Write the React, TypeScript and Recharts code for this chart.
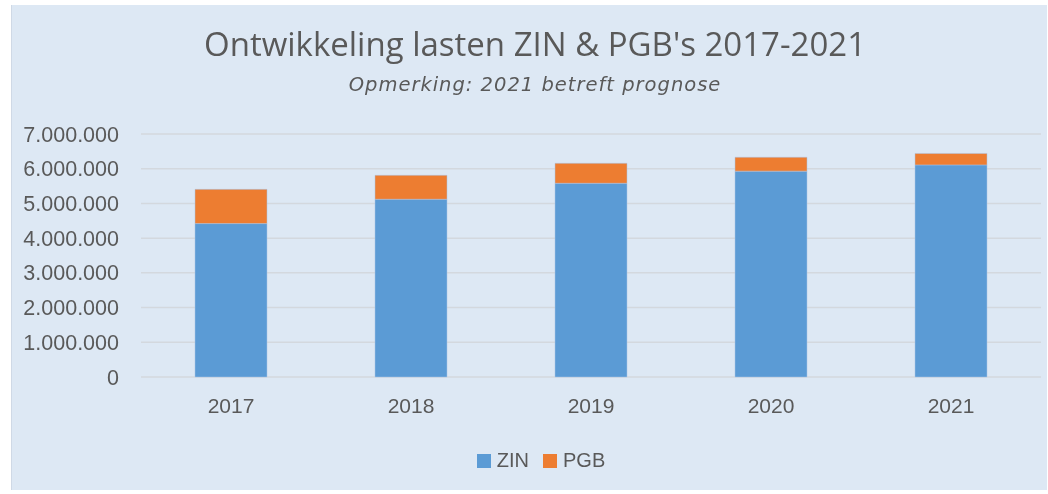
import { BarChart, Bar, XAxis, YAxis, CartesianGrid } from 'recharts'

const years = ['2017', '2018', '2019', '2020', '2021']
const zinValues = [4420000, 5120000, 5580000, 5930000, 6110000]
const pgbValues = [985000, 690000, 575000, 400000, 330000]
const yTicks = [0, 1000000, 2000000, 3000000, 4000000, 5000000, 6000000, 7000000]

const series = [
  { key: 'ZIN', color: '#5b9bd5' },
  { key: 'PGB', color: '#ed7d31' },
]

const data = years.map((year, i) => ({ year, ZIN: zinValues[i], PGB: pgbValues[i] }))

const fmt = (v: number) => String(v).replace(/\B(?=(\d{3})+(?!\d))/g, '.')

const textColor = '#595959'

export default function App() {
  return (
    <div style={{ position: 'fixed', left: 0, top: 0, width: 1048, height: 494, background: '#fff' }}>
      <div
        style={{
          position: 'absolute',
          left: 11,
          top: 5,
          width: 1036,
          height: 485,
          background: '#dde8f4',
          borderLeft: '1px solid #cfd9e6',
          boxSizing: 'border-box',
        }}
      >
        <div
          style={{
            position: 'absolute',
            left: 0,
            top: 16,
            width: 1046,
            textAlign: 'center',
            fontFamily: '"Open Sans", sans-serif',
            fontSize: 33,
            color: textColor,
            whiteSpace: 'nowrap',
          }}
        >
          Ontwikkeling lasten ZIN &amp; PGB's 2017-2021
        </div>
        <div
          style={{
            position: 'absolute',
            left: 0,
            top: 68,
            width: 1046,
            textAlign: 'center',
            fontFamily: '"DejaVu Sans", sans-serif',
            fontStyle: 'italic',
            fontSize: 19.5,
            letterSpacing: 1,
            color: textColor,
            whiteSpace: 'nowrap',
          }}
        >
          Opmerking: 2021 betreft prognose
        </div>

        <BarChart
          width={1036}
          height={485}
          data={data}
          margin={{ top: 129, right: 7, bottom: 83, left: 0 }}
          barCategoryGap="30%"
        >
          <CartesianGrid vertical={false} stroke="#d3d8de" strokeWidth={1.5} />
          <XAxis
            dataKey="year"
            height={30}
            axisLine={false}
            tickLine={false}
            tickSize={0}
            tickMargin={21}
            tick={{ fill: textColor, fontSize: 21, fontFamily: '"Liberation Sans", Arial, sans-serif' }}
          />
          <YAxis
            width={129}
            domain={[0, 7000000]}
            ticks={yTicks}
            interval={0}
            axisLine={false}
            tickLine={false}
            tickSize={0}
            tickMargin={22}
            tickFormatter={fmt}
            tick={{ fill: textColor, fontSize: 21.5, fontFamily: '"Liberation Sans", Arial, sans-serif' }}
          />
          {series.map((s) => (
            <Bar
              key={s.key}
              dataKey={s.key}
              stackId="a"
              fill={s.color}
              stroke="#a8c5e6"
              strokeWidth={0.5}
              isAnimationActive={false}
            />
          ))}
        </BarChart>

        <div
          style={{
            position: 'absolute',
            left: 11,
            top: 444,
            width: 1036,
            display: 'flex',
            justifyContent: 'center',
            alignItems: 'center',
            fontFamily: '"Liberation Sans", Arial, sans-serif',
            fontSize: 20,
            color: textColor,
          }}
        >
          {series.map((s) => (
            <div key={s.key} style={{ display: 'flex', alignItems: 'center', margin: '0 7px' }}>
              <span style={{ display: 'inline-block', width: 14, height: 14, background: s.color, marginRight: 6 }} />
              <span>{s.key}</span>
            </div>
          ))}
        </div>
      </div>
    </div>
  )
}
